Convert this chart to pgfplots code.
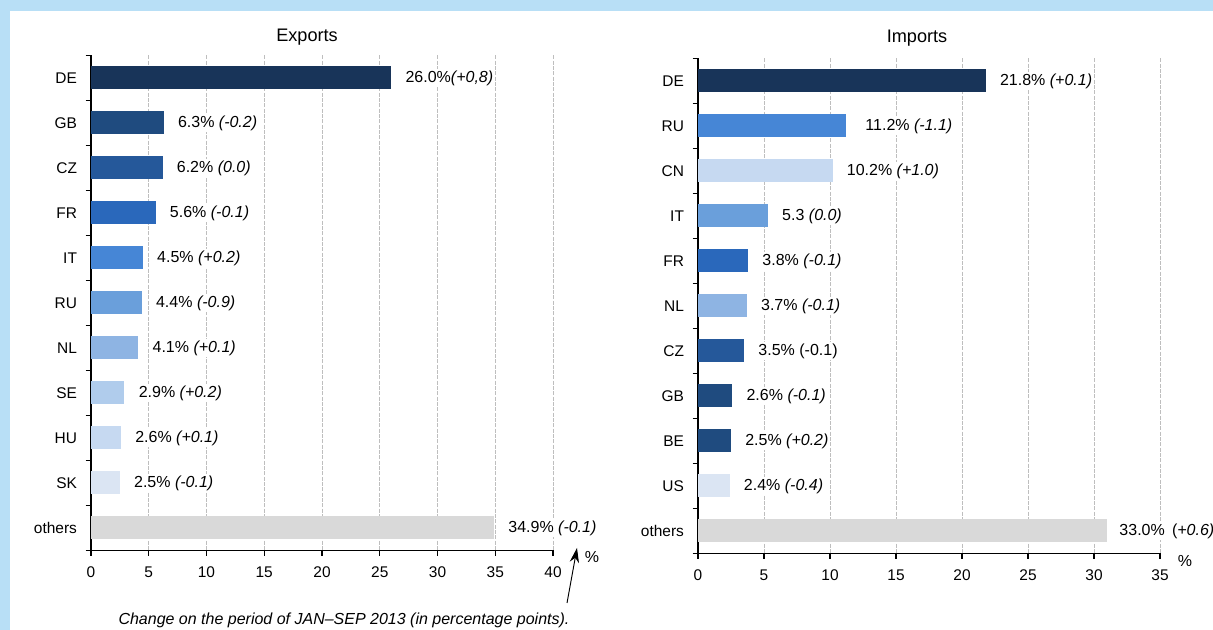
\documentclass[border=0pt]{standalone}
\usepackage{pgfplots}
\pgfplotsset{compat=1.18}
\usepackage{fontspec}
\setmainfont{Liberation Sans}
\usetikzlibrary{arrows.meta}
\definecolor{framebg}{HTML}{B8DFF6}
\definecolor{cA}{HTML}{183459}
\definecolor{cB}{HTML}{1F4B7F}
\definecolor{cC}{HTML}{25589A}
\definecolor{cD}{HTML}{2A68BB}
\definecolor{cE}{HTML}{4686D6}
\definecolor{cF}{HTML}{6A9FDB}
\definecolor{cG}{HTML}{8EB4E3}
\definecolor{cH}{HTML}{B0CCEC}
\definecolor{cI}{HTML}{C6D9F1}
\definecolor{cJ}{HTML}{DBE5F3}
\definecolor{cO}{HTML}{D9D9D9}
\definecolor{gridc}{HTML}{BEBEBE}
\newcommand{\lf}{\fontsize{12}{14}\selectfont}
\newcommand{\tf}{\fontsize{11.6}{14}\selectfont}
\newcommand{\hf}{\fontsize{13.6}{16}\selectfont}
\tikzset{lbl/.style={anchor=west, fill=white, inner sep=1pt, font=\lf, xshift=9.5pt}}
\pgfplotsset{
  hb/.style={
    scale only axis, width=346.5pt, height=371.25pt,
    y dir=reverse, ymin=-0.5, ymax=10.5, xmin=0,
    axis x line*=bottom, axis y line*=left,
    axis line style={-, black, line width=0.8pt},
    tick align=outside,
    ytick={0,...,10},
    minor ytick={-0.5,0.5,...,10.5},
    major y tick style={draw=none},
    minor y tick style={black, line width=0.8pt},
    minor tick length=4pt,
    major x tick style={black, line width=0.8pt},
    major tick length=4pt,
    xmajorgrids,
    major x grid style={color=gridc, line width=0.6pt, dash pattern=on 3pt off 1pt},
    ticklabel style={font=\tf},
    yticklabel style={xshift=-3pt},
    xticklabel style={yshift=-4.5pt},
    /pgf/number format/assume math mode=true,
    clip=false,
  },
  b/.style={xbar, bar width=17.25pt, bar shift=0pt, fill=#1, draw=none},
}
\begin{document}
\begin{tikzpicture}
\fill[framebg] (0,0) rectangle (909.75pt,472.5pt);
\fill[white] (7.5pt,0) rectangle (909.75pt,464.25pt);

% Exports
\begin{axis}[hb, at={(68.25pt,59.625pt)}, anchor=south west,
  xmax=40, xtick={0,5,...,40},
  yticklabels={DE,GB,CZ,FR,IT,RU,NL,SE,HU,SK,others}]
\addplot[b=cA] coordinates {(26.0,0)};
\addplot[b=cB] coordinates {(6.3,1)};
\addplot[b=cC] coordinates {(6.2,2)};
\addplot[b=cD] coordinates {(5.6,3)};
\addplot[b=cE] coordinates {(4.5,4)};
\addplot[b=cF] coordinates {(4.4,5)};
\addplot[b=cG] coordinates {(4.1,6)};
\addplot[b=cH] coordinates {(2.9,7)};
\addplot[b=cI] coordinates {(2.6,8)};
\addplot[b=cJ] coordinates {(2.5,9)};
\addplot[b=cO] coordinates {(34.9,10)};
\node[lbl] at (axis cs:26.0,0) {26.0\%\textit{(+0,8)}};
\node[lbl] at (axis cs:6.3,1) {6.3\% \textit{(-0.2)}};
\node[lbl] at (axis cs:6.2,2) {6.2\% \textit{(0.0)}};
\node[lbl] at (axis cs:5.6,3) {5.6\% \textit{(-0.1)}};
\node[lbl] at (axis cs:4.5,4) {4.5\% \textit{(+0.2)}};
\node[lbl] at (axis cs:4.4,5) {4.4\% \textit{(-0.9)}};
\node[lbl] at (axis cs:4.1,6) {4.1\% \textit{(+0.1)}};
\node[lbl] at (axis cs:2.9,7) {2.9\% \textit{(+0.2)}};
\node[lbl] at (axis cs:2.6,8) {2.6\% \textit{(+0.1)}};
\node[lbl] at (axis cs:2.5,9) {2.5\% \textit{(-0.1)}};
\node[lbl] at (axis cs:34.9,10) {34.9\% \textit{(-0.1)}};
\end{axis}

% Imports
\begin{axis}[hb, at={(523.5pt,57.375pt)}, anchor=south west,
  xmax=35, xtick={0,5,...,35},
  yticklabels={DE,RU,CN,IT,FR,NL,CZ,GB,BE,US,others}]
\addplot[b=cA] coordinates {(21.8,0)};
\addplot[b=cE] coordinates {(11.2,1)};
\addplot[b=cI] coordinates {(10.2,2)};
\addplot[b=cF] coordinates {(5.3,3)};
\addplot[b=cD] coordinates {(3.8,4)};
\addplot[b=cG] coordinates {(3.7,5)};
\addplot[b=cC] coordinates {(3.5,6)};
\addplot[b=cB] coordinates {(2.6,7)};
\addplot[b=cB] coordinates {(2.5,8)};
\addplot[b=cJ] coordinates {(2.4,9)};
\addplot[b=cO] coordinates {(31.0,10)};
\node[lbl] at (axis cs:21.8,0) {21.8\% \textit{(+0.1)}};
\node[lbl, xshift=4pt] at (axis cs:11.2,1) {11.2\% \textit{(-1.1)}};
\node[lbl] at (axis cs:10.2,2) {10.2\% \textit{(+1.0)}};
\node[lbl] at (axis cs:5.3,3) {5.3 \textit{(0.0)}};
\node[lbl] at (axis cs:3.8,4) {3.8\% \textit{(-0.1)}};
\node[lbl] at (axis cs:3.7,5) {3.7\% \textit{(-0.1)}};
\node[lbl] at (axis cs:3.5,6) {3.5\% (-0.1)};
\node[lbl] at (axis cs:2.6,7) {2.6\% \textit{(-0.1)}};
\node[lbl] at (axis cs:2.5,8) {2.5\% \textit{(+0.2)}};
\node[lbl] at (axis cs:2.4,9) {2.4\% \textit{(-0.4)}};
\node[lbl, xshift=-1.5pt] at (axis cs:31.0,10) {33.0\%\hspace{0.45em}(\textit{+0.6)}};
\end{axis}

\node[font=\hf] at (230.25pt,444.75pt) {Exports};
\node[font=\hf] at (687.75pt,444pt) {Imports};
\node[font=\lf] at (444pt,54.75pt) {\%};
\node[font=\lf] at (888.75pt,51.75pt) {\%};
\node[font=\lf\itshape] at (258pt,7.5pt) {Change on the period of JAN–SEP 2013 (in percentage points).};
\draw[line width=0.7pt, -{Stealth[length=11pt,width=7pt]}] (425.25pt,20.25pt) -- (432.75pt,61.5pt);

\pgfresetboundingbox
\useasboundingbox (0,0) rectangle (909.75pt,472.5pt);
\end{tikzpicture}
\end{document}
